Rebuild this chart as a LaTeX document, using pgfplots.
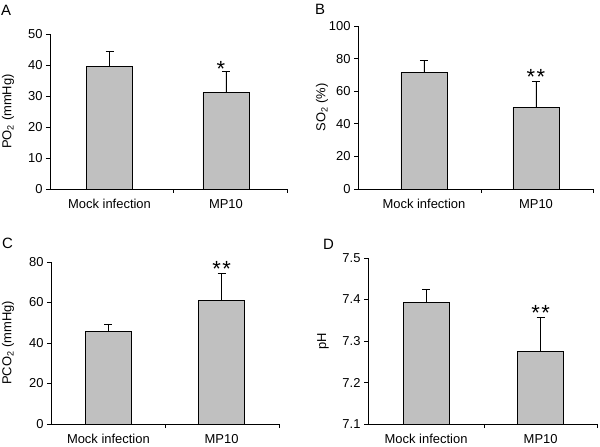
\documentclass[border=0pt]{standalone}
\usepackage{fontspec}
\setmainfont{Liberation Sans}
\usepackage{pgfplots}
\pgfplotsset{compat=1.18}
\definecolor{barfill}{RGB}{192,192,192}
\tikzset{sigstar/.style={font=\fontsize{22}{24}\selectfont, anchor=base, inner sep=0pt}}
\pgfplotsset{
  panel/.style={
    scale only axis,
    anchor=south west,
    axis x line*=bottom,
    axis y line*=left,
    ybar,
    bar width=46bp,
    ymin=0,
    xtick={0,1},
    xticklabels={Mock infection, MP10},
    major x tick style={draw=none},
    tick align=outside,
    major tick length=4bp,
    minor tick length=4bp,
    tick style={black, line width=0.6pt},
    axis line style={black, line width=0.6pt},
    ticklabel style={font=\fontsize{13}{15}\selectfont},
    xticklabel style={yshift=-3bp},
    /pgf/number format/assume math mode=true,
    every axis y label/.style={at={(axis description cs:0,0.5)}, anchor=center, rotate=90, font=\fontsize{13}{15}\selectfont},
    clip mode=individual,
  },
  bars/.style={fill=barfill, draw=black, line width=0.7pt,
    error bars/.cd, y dir=plus, y explicit,
    error bar style={black, line width=0.7pt},
    error mark options={rotate=90, black, mark size=4bp, line width=0.7pt}},
}
\begin{document}
\begin{tikzpicture}
\useasboundingbox (0,0) rectangle (600bp,447bp);

% Panel A
\begin{axis}[panel, at={(50bp,258bp)}, width=237bp, height=155bp,
  xmin=-0.511, xmax=1.524, minor xtick={0.545,1.524},
  ymax=50, ytick={0,10,...,50},
  ylabel={PO\textsubscript{2} (mmHg)}, ylabel style={yshift=42bp}]
\addplot[bars] table[x=x, y=y, y error=e] {
x y e
0 39.5 5.0
1 31.2 6.6
};
\node[sigstar, xshift=-5bp, yshift=-5bp] at (axis cs:1,37.8) {*};
\end{axis}

% Panel B
\begin{axis}[panel, at={(358bp,258bp)}, width=235bp, height=163bp,
  xmin=-0.589, xmax=1.509, minor xtick={0.509,1.509},
  ymax=100, ytick={0,20,...,100},
  ylabel={SO\textsubscript{2} (\%)}, ylabel style={yshift=36bp}]
\addplot[bars] table[x=x, y=y, y error=e] {
x y e
0 71.6 7.5
1 50.1 16.2
};
\node[sigstar, yshift=-3.5bp] at (axis cs:1,66.3) {*\kern1.5bp*};
\end{axis}

% Panel C
\begin{axis}[panel, at={(51bp,23bp)}, width=228bp, height=162bp,
  xmin=-0.507, xmax=1.507, minor xtick={0.506,1.507},
  ymax=80, ytick={0,20,...,80},
  ylabel={PCO\textsubscript{2} (mmHg)}, ylabel style={yshift=43bp}]
\addplot[bars] table[x=x, y=y, y error=e] {
x y e
0 45.9 3.5
1 61.2 13.2
};
\node[sigstar, yshift=-3bp] at (axis cs:1,74.4) {*\kern1.5bp*};
\end{axis}

% Panel D
\begin{axis}[panel, at={(368bp,23bp)}, width=229bp, height=166bp,
  xmin=-0.507, xmax=1.492, minor xtick={0.508,1.492},
  ymin=7.1, ymax=7.5, ytick={7.1,7.2,7.3,7.4,7.5},
  yticklabel style={/pgf/number format/.cd, fixed, fixed zerofill, precision=1},
  ylabel={pH}, ylabel style={yshift=45bp}]
\addplot[bars] table[x=x, y=y, y error=e] {
x y e
0 7.392 0.033
1 7.274 0.082
};
\node[sigstar, yshift=-2.5bp] at (axis cs:1,7.356) {*\kern1.5bp*};
\end{axis}

\node[anchor=north west, inner sep=0pt, font=\fontsize{15}{18}\selectfont] at (1bp,442bp) {A};
\node[anchor=north west, inner sep=0pt, font=\fontsize{15}{18}\selectfont] at (315bp,443bp) {B};
\node[anchor=north west, inner sep=0pt, font=\fontsize{15}{18}\selectfont] at (2bp,209bp) {C};
\node[anchor=north west, inner sep=0pt, font=\fontsize{15}{18}\selectfont] at (323bp,208bp) {D};
\end{tikzpicture}
\end{document}
